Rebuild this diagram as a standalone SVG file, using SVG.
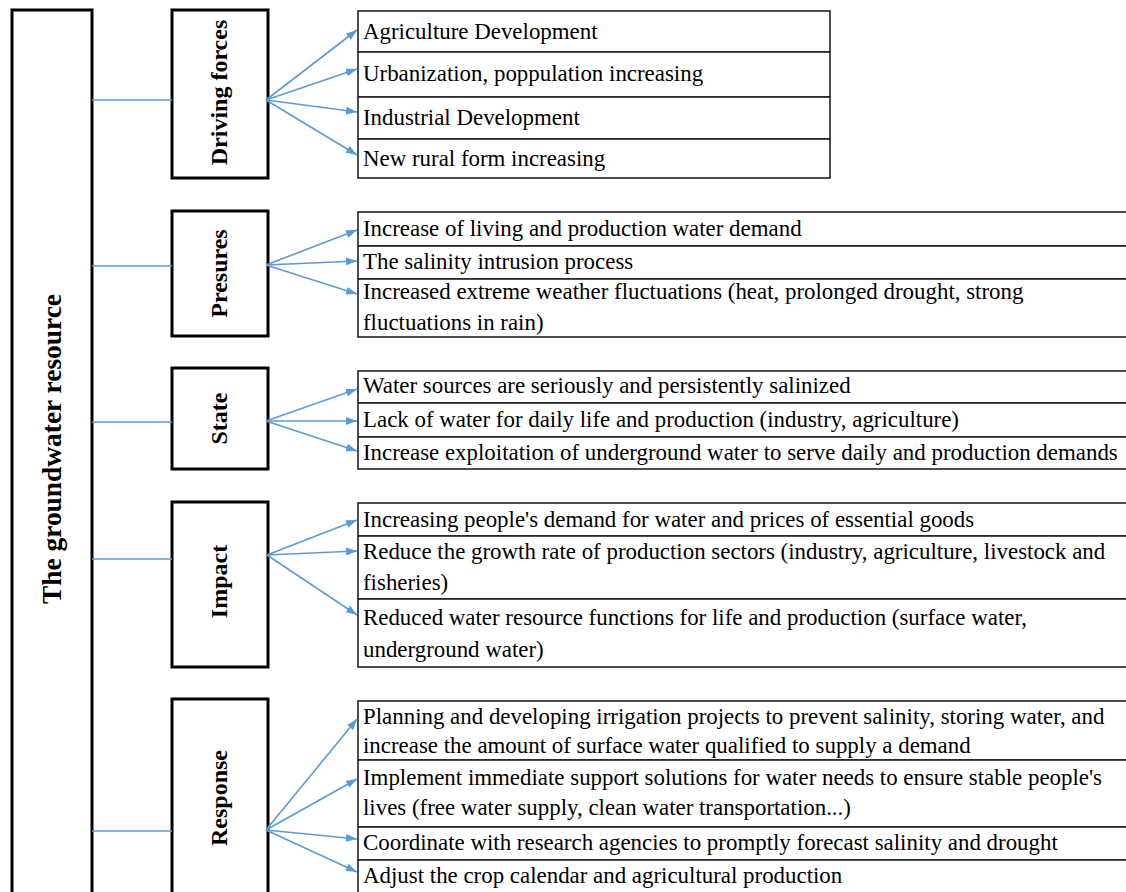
<svg xmlns="http://www.w3.org/2000/svg" width="1126" height="892" viewBox="0 0 1126 892">
<defs>
<marker id="ah" markerUnits="userSpaceOnUse" markerWidth="11" markerHeight="8" refX="11" refY="4" orient="auto">
<path d="M0,0 L11,4 L0,8 z" fill="#5B9BD5"/>
</marker>
<style>
.box{fill:#fff;stroke:#000;stroke-width:3}
.cell{fill:#fff;stroke:#222;stroke-width:1.6}
.lbl{font-family:"Liberation Serif","Times New Roman",serif;font-weight:bold;font-size:24px;fill:#000;text-anchor:middle}
.big{font-family:"Liberation Serif","Times New Roman",serif;font-weight:bold;font-size:27.4px;fill:#000;text-anchor:middle}
.t{font-family:"Liberation Serif","Times New Roman",serif;font-size:22.9px;fill:#000}
.con{stroke:#5B9BD5;stroke-width:1.6;fill:none}
.arr{stroke:#5B9BD5;stroke-width:1.6;fill:none;marker-end:url(#ah)}
</style>
</defs>
<rect width="1126" height="892" fill="#fff"/>

<g id="root">
<rect class="box" x="12" y="10" width="80" height="900"/>
<text class="big" x="52" y="458" transform="rotate(-90 52 449)">The groundwater resource</text>
</g>

<g id="driving-forces">
<rect class="box" x="172" y="10" width="96" height="168"/>
<text class="lbl" x="219" y="100.5" transform="rotate(-90 219 92.5)">Driving forces</text>
</g>
<g id="driving-forces-items">
<rect class="cell" x="358" y="11" width="472" height="41"/>
<rect class="cell" x="358" y="52" width="472" height="45"/>
<rect class="cell" x="358" y="97" width="472" height="42"/>
<rect class="cell" x="358" y="139" width="472" height="39"/>
<text class="t" x="363" y="39">Agriculture Development</text>
<text class="t" x="363" y="81">Urbanization, poppulation increasing</text>
<text class="t" x="363" y="125">Industrial Development</text>
<text class="t" x="363" y="166">New rural form increasing</text>
</g>

<g id="pressures">
<rect class="box" x="172" y="211" width="96" height="125"/>
<text class="lbl" x="219" y="281.5" transform="rotate(-90 219 273.5)">Presures</text>
</g>
<g id="pressures-items">
<rect class="cell" x="358" y="212" width="780" height="34"/>
<rect class="cell" x="358" y="246" width="780" height="33"/>
<rect class="cell" x="358" y="279" width="780" height="58"/>
<text class="t" x="363" y="236">Increase of living and production water demand</text>
<text class="t" x="363" y="269">The salinity intrusion process</text>
<text class="t" x="363" y="299">Increased extreme weather fluctuations (heat, prolonged drought, strong</text>
<text class="t" x="363" y="330">fluctuations in rain)</text>
</g>

<g id="state">
<rect class="box" x="172" y="368" width="96" height="101"/>
<text class="lbl" x="219" y="426.5" transform="rotate(-90 219 418.5)">State</text>
</g>
<g id="state-items">
<rect class="cell" x="358" y="371" width="780" height="32"/>
<rect class="cell" x="358" y="403" width="780" height="34"/>
<rect class="cell" x="358" y="437" width="780" height="32"/>
<text class="t" x="363" y="393">Water sources are seriously and persistently salinized</text>
<text class="t" x="363" y="427">Lack of water for daily life and production (industry, agriculture)</text>
<text class="t" x="363" y="460">Increase exploitation of underground water to serve daily and production demands</text>
</g>

<g id="impact">
<rect class="box" x="172" y="502" width="96" height="165"/>
<text class="lbl" x="219" y="589.5" transform="rotate(-90 219 581.5)">Impact</text>
</g>
<g id="impact-items">
<rect class="cell" x="358" y="503" width="780" height="33"/>
<rect class="cell" x="358" y="536" width="780" height="63"/>
<rect class="cell" x="358" y="599" width="780" height="68"/>
<text class="t" x="363" y="527">Increasing people's demand for water and prices of essential goods</text>
<text class="t" x="363" y="559">Reduce the growth rate of production sectors (industry, agriculture, livestock and</text>
<text class="t" x="363" y="590">fisheries)</text>
<text class="t" x="363" y="625">Reduced water resource functions for life and production (surface water,</text>
<text class="t" x="363" y="657">underground water)</text>
</g>

<g id="response">
<rect class="box" x="172" y="699" width="96" height="210"/>
<text class="lbl" x="219" y="806" transform="rotate(-90 219 798)">Response</text>
</g>
<g id="response-items">
<rect class="cell" x="358" y="701" width="780" height="59"/>
<rect class="cell" x="358" y="760" width="780" height="67"/>
<rect class="cell" x="358" y="827" width="780" height="33"/>
<rect class="cell" x="358" y="860" width="780" height="50"/>
<text class="t" x="363" y="724">Planning and developing irrigation projects to prevent salinity, storing water, and</text>
<text class="t" x="363" y="753">increase the amount of surface water qualified to supply a demand</text>
<text class="t" x="363" y="785">Implement immediate support solutions for water needs to ensure stable people's</text>
<text class="t" x="363" y="815">lives (free water supply, clean water transportation...)</text>
<text class="t" x="363" y="850">Coordinate with research agencies to promptly forecast salinity and drought</text>
<text class="t" x="363" y="883">Adjust the crop calendar and agricultural production</text>
</g>

<g id="connectors">
<line class="con" x1="92" y1="100" x2="172" y2="100"/>
<line class="con" x1="92" y1="266" x2="172" y2="266"/>
<line class="con" x1="92" y1="422" x2="172" y2="422"/>
<line class="con" x1="92" y1="559" x2="172" y2="559"/>
<line class="con" x1="92" y1="831" x2="172" y2="831"/>

<line class="arr" x1="266" y1="100" x2="357" y2="30"/>
<line class="arr" x1="266" y1="100" x2="357" y2="69"/>
<line class="arr" x1="266" y1="100" x2="357" y2="112"/>
<line class="arr" x1="266" y1="100" x2="357" y2="155"/>

<line class="arr" x1="266" y1="265" x2="357" y2="230"/>
<line class="arr" x1="266" y1="265" x2="357" y2="261"/>
<line class="arr" x1="266" y1="265" x2="357" y2="294"/>

<line class="arr" x1="266" y1="421" x2="357" y2="389"/>
<line class="arr" x1="266" y1="421" x2="357" y2="421"/>
<line class="arr" x1="266" y1="421" x2="357" y2="451"/>

<line class="arr" x1="267" y1="555" x2="357" y2="520"/>
<line class="arr" x1="267" y1="555" x2="357" y2="551"/>
<line class="arr" x1="267" y1="555" x2="357" y2="615"/>

<line class="arr" x1="266" y1="830" x2="357" y2="719"/>
<line class="arr" x1="266" y1="830" x2="357" y2="779"/>
<line class="arr" x1="266" y1="830" x2="357" y2="839"/>
<line class="arr" x1="266" y1="830" x2="357" y2="872"/>
</g>
</svg>
